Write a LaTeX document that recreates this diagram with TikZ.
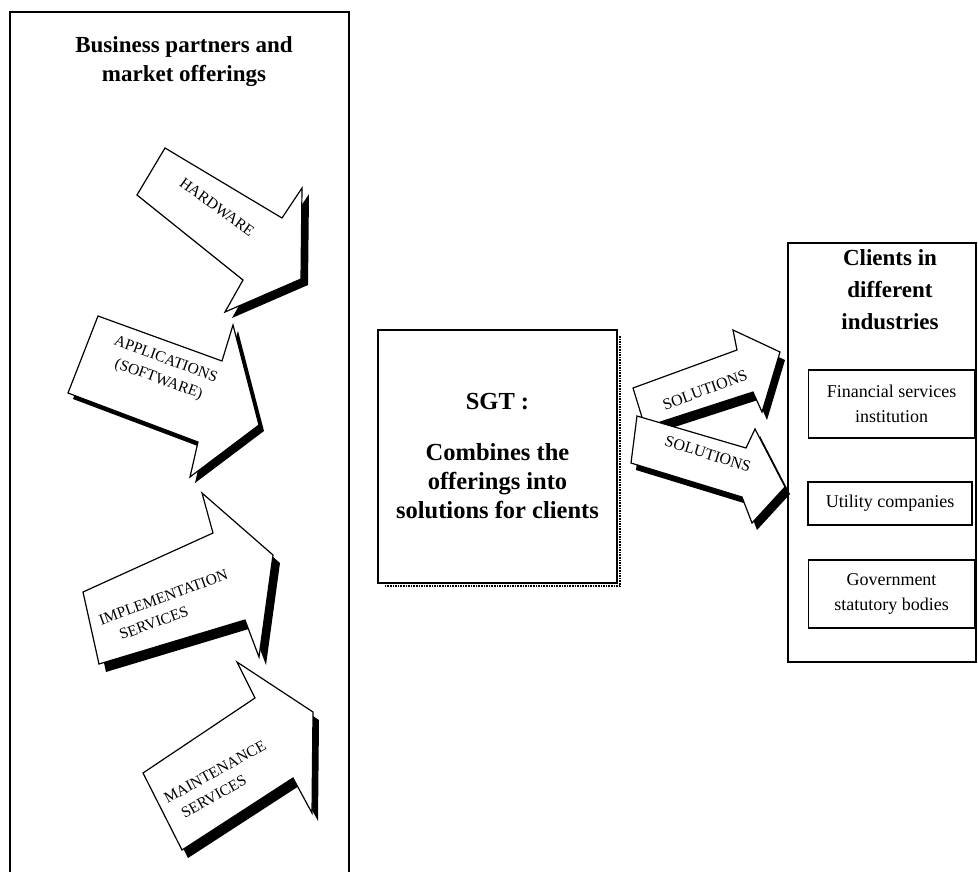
\documentclass[tikz,border=0pt]{standalone}
\usepackage{fontspec}
\setmainfont{Liberation Serif}
\usetikzlibrary{positioning}

\tikzset{
  panel/.style={draw, line width=1.4pt},
  heading/.style={font=\bfseries\fontsize{23}{29}\selectfont, align=center},
  client/.style={draw, line width=1.3pt, fill=white, minimum width=166pt,
    font=\fontsize{18}{25}\selectfont, align=center, inner sep=2pt},
  bigarrow/.style={draw, line width=1.2pt, fill=white, line join=miter},
  arrowshade/.style={fill=black},
  arrowlabel/.style={font=\fontsize{15.5}{21}\selectfont, inner sep=0pt}
}

\begin{document}
\begin{tikzpicture}[x=1pt, y=-1pt]
  \useasboundingbox (0,0) rectangle (978,872);

  % left panel: partners and offerings
  \draw[panel] (10,872) -- (10,12) -- (349,12) -- (349,872);
  \node[heading] (partners) at (184,62) {Business partners and\\market offerings};

  % offering arrows (shadow first, then the arrow)
  \fill[arrowshade, shift={(7,6)}] (165,148) -- (282,218) -- (302,188) -- (301,279) -- (225,312) -- (243,280) -- (137,195) -- cycle;
  \draw[bigarrow] (165,148) -- (282,218) -- (302,188) -- (301,279) -- (225,312) -- (243,280) -- (137,195) -- cycle;
  \node[arrowlabel, rotate=-36] (hardware) at (217,207) {HARDWARE};

  \fill[arrowshade, shift={(5,6)}] (98,316) -- (222,361) -- (233,325) -- (259,425) -- (190,477) -- (198,442) -- (68,393) -- cycle;
  \draw[bigarrow] (98,316) -- (222,361) -- (233,325) -- (259,425) -- (190,477) -- (198,442) -- (68,393) -- cycle;
  \node[arrowlabel, rotate=-20, align=center] (software) at (162,370) {APPLICATIONS\\(SOFTWARE)};

  \fill[arrowshade, shift={(7,8)}] (83,592) -- (213,533) -- (202,493) -- (273,555) -- (259,657) -- (245,620) -- (99,664) -- cycle;
  \draw[bigarrow] (83,592) -- (213,533) -- (202,493) -- (273,555) -- (259,657) -- (245,620) -- (99,664) -- cycle;
  \node[arrowlabel, rotate=20, align=left] (implementation) at (167,607) {IMPLEMENTATION\\\hspace{14pt}SERVICES};

  \fill[arrowshade, shift={(6,8)}] (143,773) -- (255,698) -- (237,662) -- (313,712) -- (312,813) -- (293,778) -- (182,850) -- cycle;
  \draw[bigarrow] (143,773) -- (255,698) -- (237,662) -- (313,712) -- (312,813) -- (293,778) -- (182,850) -- cycle;
  \node[arrowlabel, rotate=29, align=left] (maintenance) at (220,781) {MAINTENANCE\\\hspace{8pt}SERVICES};

  % SGT box
  \draw[densely dotted, line width=1.6pt] (620,336) -- (620,586) -- (384,586);
  \node[panel, fill=white, minimum width=239pt, minimum height=253pt, heading, font=\bfseries\fontsize{24.5}{29}\selectfont]
    (sgt) at (497.5,456.5) {SGT :\\[22pt]Combines the\\offerings into\\solutions for clients};

  % solution arrows
  \fill[arrowshade, shift={(5,8)}] (633,388) -- (737,350) -- (733,330) -- (780,352) -- (762,412) -- (753,392) -- (645,427) -- cycle;
  \draw[bigarrow] (633,388) -- (737,350) -- (733,330) -- (780,352) -- (762,412) -- (753,392) -- (645,427) -- cycle;
  \node[arrowlabel, rotate=20, font=\fontsize{16}{19}\selectfont] (solution1) at (705,390) {SOLUTIONS};

  \fill[arrowshade, shift={(5,7)}] (637,416) -- (746,448) -- (755,429) -- (785,487) -- (752,523) -- (742,497) -- (631,463) -- cycle;
  \draw[bigarrow] (637,416) -- (746,448) -- (755,429) -- (785,487) -- (752,523) -- (742,497) -- (631,463) -- cycle;
  \node[arrowlabel, rotate=-17, font=\fontsize{16}{19}\selectfont] (solution2) at (708,454) {SOLUTIONS};

  % right panel: clients
  \draw[panel] (788,243) rectangle (976,662);
  \node[heading, font=\bfseries\fontsize{23}{32}\selectfont] (clients) at (890,290) {Clients in\\different\\industries};
  \node[client, minimum height=68pt] (financial) at (891.5,404) {Financial services\\institution};
  \node[client, minimum width=164pt, minimum height=43pt] (utility) at (890,503.5) {Utility companies};
  \node[client, minimum height=68pt] (government) at (891.5,594) {Government\\statutory bodies};
\end{tikzpicture}
\end{document}
